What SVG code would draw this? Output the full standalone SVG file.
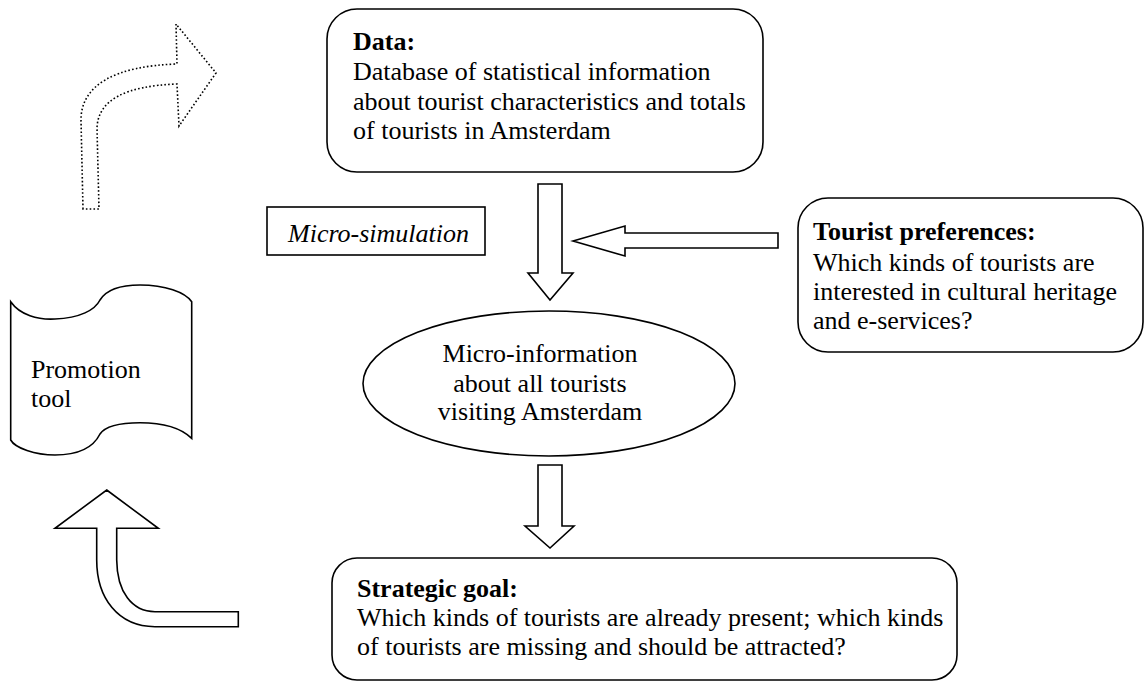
<svg xmlns="http://www.w3.org/2000/svg" width="1144" height="682" viewBox="0 0 1144 682">
<style>
.shape{fill:#fff;stroke:#000;stroke-width:1.6}
.dotted{fill:none;stroke:#000;stroke-width:1.6;stroke-dasharray:1.6 2.2}
text{font-family:"Liberation Serif","Times New Roman",serif;font-size:26px;fill:#000}
.b{font-weight:bold}
.i{font-style:italic}
</style>
<rect width="1144" height="682" fill="#fff"/>
<g id="connectors">
<path class="dotted" d="M 83 209 L 81 120 C 81 85 115 66 177 64 L 176 24 L 216 73 L 179 126 L 177 84 C 125 86 98 100 97 128 L 99 209 Z"/>
<path class="shape" d="M 106.7 490 L 158.3 528.3 L 116.7 528.3 L 116.7 560 C 117 592 132 611.7 155 611.7 L 238.3 611.7 L 238.3 626.7 L 155 626.7 C 118 626.7 96.7 598 96.7 560 L 96.7 528.3 L 55 528.3 Z"/>
<path class="shape" d="M 538 184 L 562 184 L 562 273 L 573 273 L 550 300 L 528 273 L 538 273 Z"/>
<path class="shape" d="M 573 241 L 625 226 L 625 233 L 778 233 L 778 248 L 625 248 L 625 256 Z"/>
<path class="shape" d="M 538 465 L 562 465 L 562 526 L 574 526 L 550 548 L 525 526 L 538 526 Z"/>
</g>
<g id="data">
<rect class="shape" x="327" y="9" width="436" height="163" rx="30"/>
<text x="353" y="50" class="b">Data:</text>
<text x="353" y="80">Database of statistical information</text>
<text x="353" y="110">about tourist characteristics and totals</text>
<text x="353" y="139">of tourists in Amsterdam</text>
</g>
<g id="microsim">
<rect class="shape" x="267" y="207" width="218" height="48"/>
<text x="288" y="242" class="i">Micro-simulation</text>
</g>
<g id="prefs">
<rect class="shape" x="798" y="198" width="345" height="154" rx="30"/>
<text x="813" y="240" class="b">Tourist preferences:</text>
<text x="813" y="271">Which kinds of tourists are</text>
<text x="813" y="300">interested in cultural heritage</text>
<text x="813" y="329">and e-services?</text>
</g>
<g id="microinfo">
<ellipse class="shape" cx="549" cy="383.5" rx="186" ry="72.5"/>
<text x="540" y="362" text-anchor="middle">Micro-information</text>
<text x="540" y="392" text-anchor="middle">about all tourists</text>
<text x="540" y="420" text-anchor="middle">visiting Amsterdam</text>
</g>
<g id="promotion">
<path class="shape" d="M 10.7 301.7 C 20 315 38 320 55 319 C 80 318 95 310 100 300 C 108 287 125 285 140 285 C 165 285 185 292 191.7 301.7 L 191.7 438.3 C 180 427 160 422.7 140 422.7 C 115 422.7 104 428 100 434 C 92 450 75 455 55 455 C 35 455 15 448 10.7 440 Z"/>
<text x="31" y="378">Promotion</text>
<text x="31" y="407">tool</text>
</g>
<g id="strategic">
<rect class="shape" x="332" y="558" width="625" height="122" rx="25"/>
<text x="357" y="597" class="b">Strategic goal:</text>
<text x="357" y="626">Which kinds of tourists are already present; which kinds</text>
<text x="357" y="655">of tourists are missing and should be attracted?</text>
</g>
</svg>
